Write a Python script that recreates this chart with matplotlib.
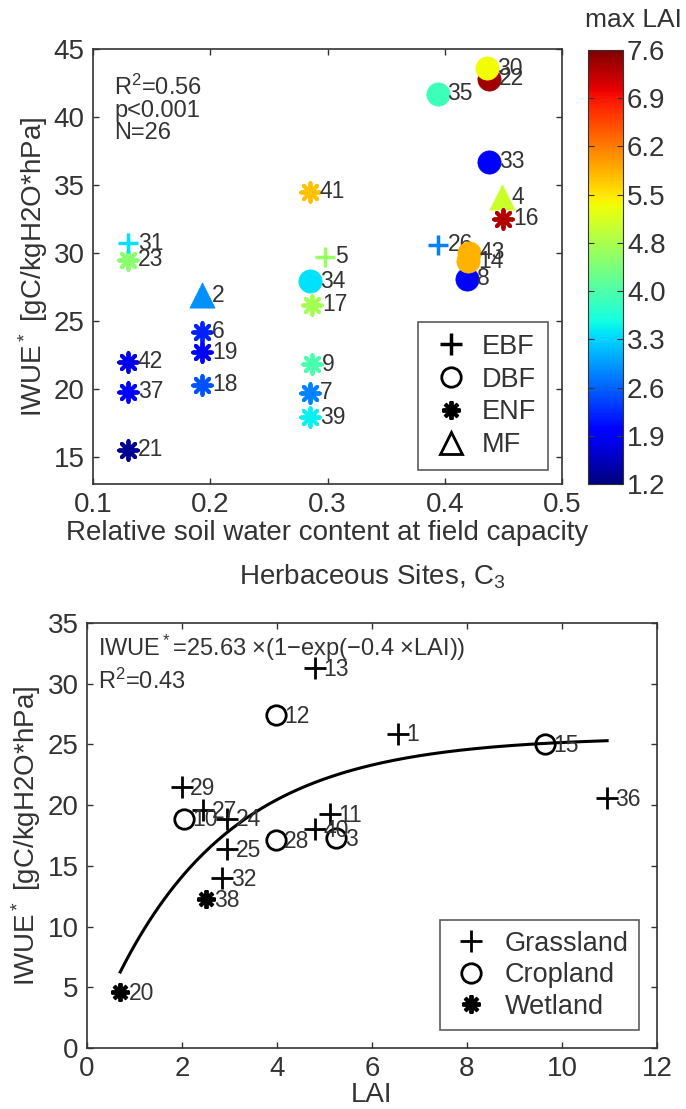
import numpy as np
import matplotlib.pyplot as plt
from matplotlib.colors import Normalize
from matplotlib.lines import Line2D

plt.rcParams['font.family'] = ['Liberation Sans', 'DejaVu Sans']
plt.rcParams['mathtext.fontset'] = 'custom'
plt.rcParams['mathtext.rm'] = 'Liberation Sans'
plt.rcParams['mathtext.it'] = 'Liberation Sans'

# ---- forest sites: soil water content vs IWUE*, coloured by max LAI ----
ebf_id = [5, 26, 31]
ebf_swc = [0.298, 0.394, 0.130]
ebf_iwue = [29.7, 30.6, 30.7]
ebf_lai = [4.6, 2.8, 3.4]

dbf_id = [8, 14, 22, 30, 33, 34, 35, 43]
dbf_swc = [0.419, 0.420, 0.438, 0.436, 0.438, 0.285, 0.394, 0.421]
dbf_iwue = [28.1, 29.4, 42.8, 43.6, 36.7, 27.9, 41.7, 30.0]
dbf_lai = [2.0, 5.8, 7.4, 5.3, 1.9, 3.4, 3.9, 5.8]

enf_id = [6, 7, 9, 16, 17, 18, 19, 21, 23, 37, 39, 41, 42]
enf_swc = [0.193, 0.285, 0.287, 0.450, 0.287, 0.193, 0.193, 0.130, 0.130, 0.130, 0.285, 0.285, 0.130]
enf_iwue = [24.2, 19.7, 21.8, 32.5, 26.2, 20.3, 22.7, 15.5, 29.5, 19.8, 17.9, 34.5, 22.0]
enf_lai = [2.2, 2.8, 4.0, 7.3, 4.7, 2.5, 1.9, 1.3, 4.5, 1.9, 3.5, 5.7, 1.8]

mf_id = [2, 4]
mf_swc = [0.193, 0.449]
mf_iwue = [26.9, 34.1]
mf_lai = [2.9, 5.0]

lai_min, lai_max = 1.2, 7.6
cbar_labels = ['1.2', '1.9', '2.6', '3.3', '4.0', '4.8', '5.5', '6.2', '6.9', '7.6']

# ---- herbaceous C3 sites: LAI vs IWUE* ----
grass_id = [1, 11, 13, 24, 25, 27, 29, 32, 36, 40]
grass_lai = [6.55, 5.12, 4.8, 2.95, 2.95, 2.45, 2.0, 2.85, 10.95, 4.8]
grass_iwue = [25.9, 19.3, 31.3, 18.9, 16.4, 19.6, 21.5, 14.0, 20.6, 18.0]

crop_id = [3, 10, 12, 15, 28]
crop_lai = [5.25, 2.05, 3.97, 9.65, 3.97]
crop_iwue = [17.3, 18.9, 27.4, 25.0, 17.1]

wet_id = [20, 38]
wet_lai = [0.7, 2.5]
wet_iwue = [4.6, 12.3]

fit_a, fit_b = 25.63, 0.4

txt = '0.2'
ast = (8, 2, 0)
fs = 20


def style_axes(ax):
    for s in ax.spines.values():
        s.set_color(txt)
        s.set_linewidth(1.2)
    ax.tick_params(direction='in', top=True, right=True, length=4,
                   width=1, labelsize=fs, colors=txt, pad=6)


fig = plt.figure(figsize=(6.86, 11.09), dpi=100)

# top panel
ax1 = fig.add_axes([0.1356, 0.5636, 0.6837, 0.3922])
norm = Normalize(lai_min, lai_max)
groups = [(ebf_id, ebf_swc, ebf_iwue, ebf_lai, '+', 220, 2.5),
          (dbf_id, dbf_swc, dbf_iwue, dbf_lai, 'o', 280, 0.5),
          (enf_id, enf_swc, enf_iwue, enf_lai, ast, 180, 2.8),
          (mf_id, mf_swc, mf_iwue, mf_lai, '^', 330, 0.5)]
pts = []
for ids, xs, ys, cs, mk, sz, lw in groups:
    for i, x, y, c in zip(ids, xs, ys, cs):
        pts.append((i, x, y, c, mk, sz, lw))
pts.sort(key=lambda p: p[0])
for k, (i, x, y, c, mk, sz, lw) in enumerate(pts):
    sc = ax1.scatter([x], [y], c=[c], cmap='jet', norm=norm, marker=mk,
                     s=sz, linewidths=lw, zorder=3 + 2 * k)
    ax1.annotate(str(i), (x, y), xytext=(7, 0), textcoords='offset points',
                 va='center', ha='left', fontsize=16.5, color=txt,
                 zorder=4 + 2 * k)

ax1.set_xlim(0.1, 0.5)
ax1.set_ylim(13, 45)
ax1.set_xticks([0.1, 0.2, 0.3, 0.4, 0.5])
ax1.set_yticks([15, 20, 25, 30, 35, 40, 45])
style_axes(ax1)
ax1.set_xlabel('Relative soil water content at field capacity',
               fontsize=fs, color=txt, labelpad=1)
ax1.set_ylabel(r'IWUE$^*$ [gC/kgH2O*hPa]', fontsize=fs, color=txt, labelpad=3)
ax1.text(0.045, 0.94, 'R$^2$=0.56\np<0.001\nN=26', transform=ax1.transAxes,
         va='top', ha='left', fontsize=17, color=txt, linespacing=1.0)

leg1 = [Line2D([], [], ls='none', marker='+', ms=16, mew=2.5, color='k'),
        Line2D([], [], ls='none', marker='o', ms=14, mew=2, mfc='none', color='k'),
        Line2D([], [], ls='none', marker=ast, ms=13, mew=2.8, color='k'),
        Line2D([], [], ls='none', marker='^', ms=16, mew=2, mfc='none', color='k')]
lg = ax1.legend(leg1, ['EBF', 'DBF', 'ENF', 'MF'], loc='lower right',
                fontsize=19.5, frameon=True, fancybox=False, edgecolor=txt,
                labelspacing=0.25, handletextpad=0.4, borderaxespad=0.5,
                borderpad=0.45, handlelength=1.5)
lg.get_frame().set_linewidth(1.2)
for t in lg.get_texts():
    t.set_color(txt)

# colour bar
cax = fig.add_axes([0.857, 0.5636, 0.051, 0.3913])
cb = fig.colorbar(sc, cax=cax, ticks=np.linspace(lai_min, lai_max, len(cbar_labels)))
cb.ax.set_yticklabels(cbar_labels)
cb.outline.set_edgecolor(txt)
cb.ax.tick_params(direction='in', length=4, left=True, right=True,
                  labelsize=fs, colors=txt, pad=3)
fig.text(0.924, 0.982, 'max LAI', ha='center', va='center', fontsize=19, color=txt)

# bottom panel
ax2 = fig.add_axes([0.1268, 0.055, 0.8309, 0.3832])
lai_all = np.array(grass_lai + crop_lai + wet_lai)
xf = np.linspace(lai_all.min(), lai_all.max(), 200)
ax2.plot(xf, fit_a * (1 - np.exp(-fit_b * xf)), color='k', lw=2.2, zorder=2)
ax2.plot(grass_lai, grass_iwue, ls='none', marker='+', ms=16, mew=2, color='k', zorder=3)
ax2.plot(crop_lai, crop_iwue, ls='none', marker='o', ms=14, mew=2, mfc='none', color='k', zorder=3)
ax2.plot(wet_lai, wet_iwue, ls='none', marker=ast, ms=13, mew=2.8, color='k', zorder=3)
for ids, xs, ys in [(grass_id, grass_lai, grass_iwue), (crop_id, crop_lai, crop_iwue),
                    (wet_id, wet_lai, wet_iwue)]:
    for i, x, y in zip(ids, xs, ys):
        ax2.annotate(str(i), (x, y), xytext=(6, -1), textcoords='offset points',
                     va='center', ha='left', fontsize=16.5, color=txt, zorder=4)

ax2.set_xlim(0, 12)
ax2.set_ylim(0, 35)
ax2.set_xticks(range(0, 13, 2))
ax2.set_yticks(range(0, 36, 5))
style_axes(ax2)
ax2.set_xlabel('LAI', fontsize=fs, color=txt, labelpad=0)
ax2.set_ylabel(r'IWUE$^*$ [gC/kgH2O*hPa]', fontsize=fs, color=txt, labelpad=3)
ax2.set_title('Herbaceous Sites, C$_3$', fontsize=fs, color=txt, pad=28)
ax2.text(0.02, 0.978, r'IWUE$^*$=25.63 $\times$(1$-$exp($-$0.4 $\times$LAI))',
         transform=ax2.transAxes, va='top', ha='left', fontsize=17, color=txt)
ax2.text(0.02, 0.893, 'R$^2$=0.43', transform=ax2.transAxes,
         va='top', ha='left', fontsize=17, color=txt)

leg2 = [Line2D([], [], ls='none', marker='+', ms=16, mew=2, color='k'),
        Line2D([], [], ls='none', marker='o', ms=14, mew=2, mfc='none', color='k'),
        Line2D([], [], ls='none', marker=ast, ms=13, mew=2.8, color='k')]
lg2 = ax2.legend(leg2, ['Grassland', 'Cropland', 'Wetland'], loc='lower right',
                 fontsize=19.5, frameon=True, fancybox=False, edgecolor=txt,
                 labelspacing=0.2, handletextpad=0.5, borderaxespad=0.65,
                 borderpad=0.4, handlelength=1.5)
lg2.get_frame().set_linewidth(1.2)
for t in lg2.get_texts():
    t.set_color(txt)

fig.savefig('out.png', dpi=100)
